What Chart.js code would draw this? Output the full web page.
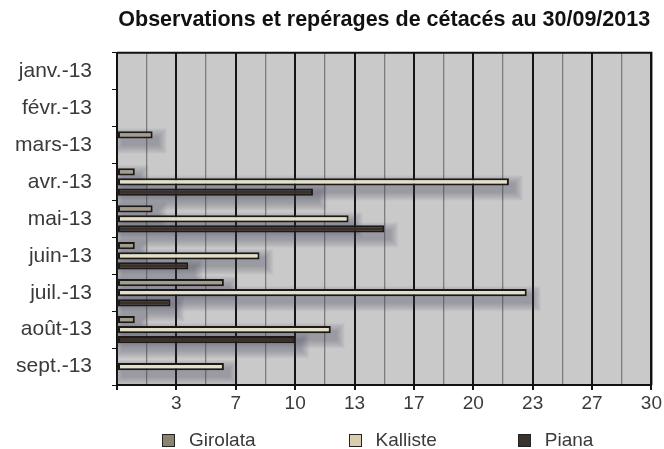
<html>
<head>
<meta charset="utf-8">
<title>Cétacés 2013</title>
<style>
  body { margin: 0; background: #fff; }
  #wrap { position: relative; width: 664px; height: 449px; }
  #legend { position: absolute; left: 162px; top: 429px; display: flex; font: 19px "Liberation Sans", Arial, sans-serif; color: #3a3a3a; }
  #legend .item { display: flex; align-items: center; }
  #legend .item:nth-child(1) { margin-right: 93px; }
  #legend .item:nth-child(2) { margin-right: 81px; }
  #legend .box { width: 11px; height: 11px; border: 1px solid #222; margin-right: 14px; }
</style>
</head>
<body>
<div id="wrap">
  <canvas id="myChart" width="664" height="449"></canvas>
  <div id="legend"></div>
</div>
<script src="https://cdn.jsdelivr.net/npm/chart.js@4.4.0/dist/chart.umd.min.js"></script>
<script>
var months = ['janv.-13', 'févr.-13', 'mars-13', 'avr.-13', 'mai-13', 'juin-13', 'juil.-13', 'août-13', 'sept.-13'];
var girolata = [0, 0, 2, 1, 2, 1, 6, 1, 0];
var kalliste = [0, 0, 0, 22, 13, 8, 23, 12, 6];
var piana = [0, 0, 0, 11, 15, 4, 3, 10, 0];
// labels under the major grid lines (every 10/3)
var xTickLabels = ['', '3', '7', '10', '13', '17', '20', '23', '27', '30'];
var xMax = 30;

var font = '"Liberation Sans", Arial, sans-serif';

// grey plot background, soft bar shadows, top/right border
var plotFrame = {
    id: 'plotFrame',
    beforeDraw: function (chart) {
        var a = chart.chartArea, ctx = chart.ctx;
        ctx.save();
        ctx.fillStyle = '#c9c9c9';
        ctx.fillRect(a.left, a.top, a.right - a.left, a.bottom - a.top);
        ctx.restore();
    },
    beforeDatasetsDraw: function (chart) {
        var a = chart.chartArea, ctx = chart.ctx;
        ctx.save();
        ctx.beginPath();
        ctx.rect(a.left, a.top, a.right - a.left, a.bottom - a.top);
        ctx.clip();
        ctx.fillStyle = 'rgba(70, 58, 95, 0.045)';
        chart.data.datasets.forEach(function (ds, i) {
            chart.getDatasetMeta(i).data.forEach(function (el, j) {
                if (!ds.data[j]) return;
                var p = el.getProps(['x', 'y', 'base', 'height'], true);
                var x0 = Math.min(p.base, p.x), w = Math.abs(p.x - p.base);
                var y0 = p.y - p.height / 2;
                for (var k = 1; k <= 9; k++) {
                    ctx.fillRect(x0 + 5 - k, y0 + 6 - k, w + 2 * k, p.height + 2 * k);
                }
            });
        });
        ctx.restore();
    },
    afterDatasetsDraw: function (chart) {
        var a = chart.chartArea, ctx = chart.ctx;
        ctx.save();
        ctx.strokeStyle = '#111';
        ctx.lineWidth = 2;
        ctx.beginPath();
        ctx.moveTo(a.left, a.top);
        ctx.lineTo(a.right, a.top);
        ctx.lineTo(a.right, a.bottom);
        ctx.stroke();
        ctx.restore();
    }
};

function bw(ctx) { return ctx.raw ? 2 : 0; }

var ctx = document.getElementById('myChart').getContext('2d');
var chart = new Chart(ctx, {
    type: 'bar',
    data: {
        labels: months,
        datasets: [{
            label: 'Girolata',
            data: girolata,
            backgroundColor: '#a39b8b',
            borderColor: '#1c1a18',
            borderWidth: bw
        }, {
            label: 'Kalliste',
            data: kalliste,
            backgroundColor: '#e4e0c8',
            borderColor: '#1c1a18',
            borderWidth: bw
        }, {
            label: 'Piana',
            data: piana,
            backgroundColor: '#3b3029',
            borderColor: '#1c1a18',
            borderWidth: bw
        }]
    },
    options: {
        indexAxis: 'y',
        responsive: false,
        animation: false,
        layout: { padding: { left: 0, right: 12, top: 0, bottom: 34 } },
        datasets: {
            bar: { categoryPercentage: 0.82, barPercentage: 0.72, borderSkipped: false, inflateAmount: 0 }
        },
        scales: {
            x: {
                min: 0,
                max: xMax,
                afterBuildTicks: function (scale) {
                    var t = [];
                    for (var i = 0; i <= 18; i++) t.push({ value: i * xMax / 18 });
                    scale.ticks = t;
                },
                afterFit: function (scale) { scale.height = 30; },
                grid: {
                    color: function (c) { return c.index % 2 === 0 ? '#151515' : '#7c7c7c'; },
                    lineWidth: function (c) { return c.index % 2 === 0 ? 2 : 1.3; },
                    tickColor: function (c) { return c.index % 2 === 0 ? '#151515' : 'rgba(0,0,0,0)'; },
                    tickLength: 5
                },
                border: { color: '#111', width: 2 },
                ticks: {
                    autoSkip: false,
                    maxRotation: 0,
                    padding: 2,
                    color: '#3a3a3a',
                    font: { family: font, size: 19 },
                    callback: function (v, i) { return i % 2 === 0 ? xTickLabels[i / 2] : ''; }
                }
            },
            y: {
                afterFit: function (scale) { scale.width = 117; },
                grid: { offset: true, drawOnChartArea: false, color: '#111', tickLength: 5 },
                border: { color: '#111', width: 2 },
                ticks: {
                    padding: 20,
                    color: '#3a3a3a',
                    font: { family: font, size: 21 }
                }
            }
        },
        plugins: {
            legend: { display: false },
            tooltip: { enabled: false },
            title: {
                display: true,
                fullSize: false,
                text: 'Observations et repérages de cétacés au 30/09/2013',
                color: '#111',
                font: { family: font, size: 21.5, weight: 'bold' },
                padding: { top: 7, bottom: 20 }
            }
        }
    },
    plugins: [plotFrame]
});

// legend built from the datasets
var lg = document.getElementById('legend');
var legendColors = ['#8d8371', '#d8cdb0', '#3a322c'];
chart.data.datasets.forEach(function (ds, i) {
    var it = document.createElement('div');
    it.className = 'item';
    var b = document.createElement('span');
    b.className = 'box';
    b.style.background = legendColors[i];
    var s = document.createElement('span');
    s.textContent = ds.label;
    it.appendChild(b);
    it.appendChild(s);
    lg.appendChild(it);
});
</script>
</body>
</html>
